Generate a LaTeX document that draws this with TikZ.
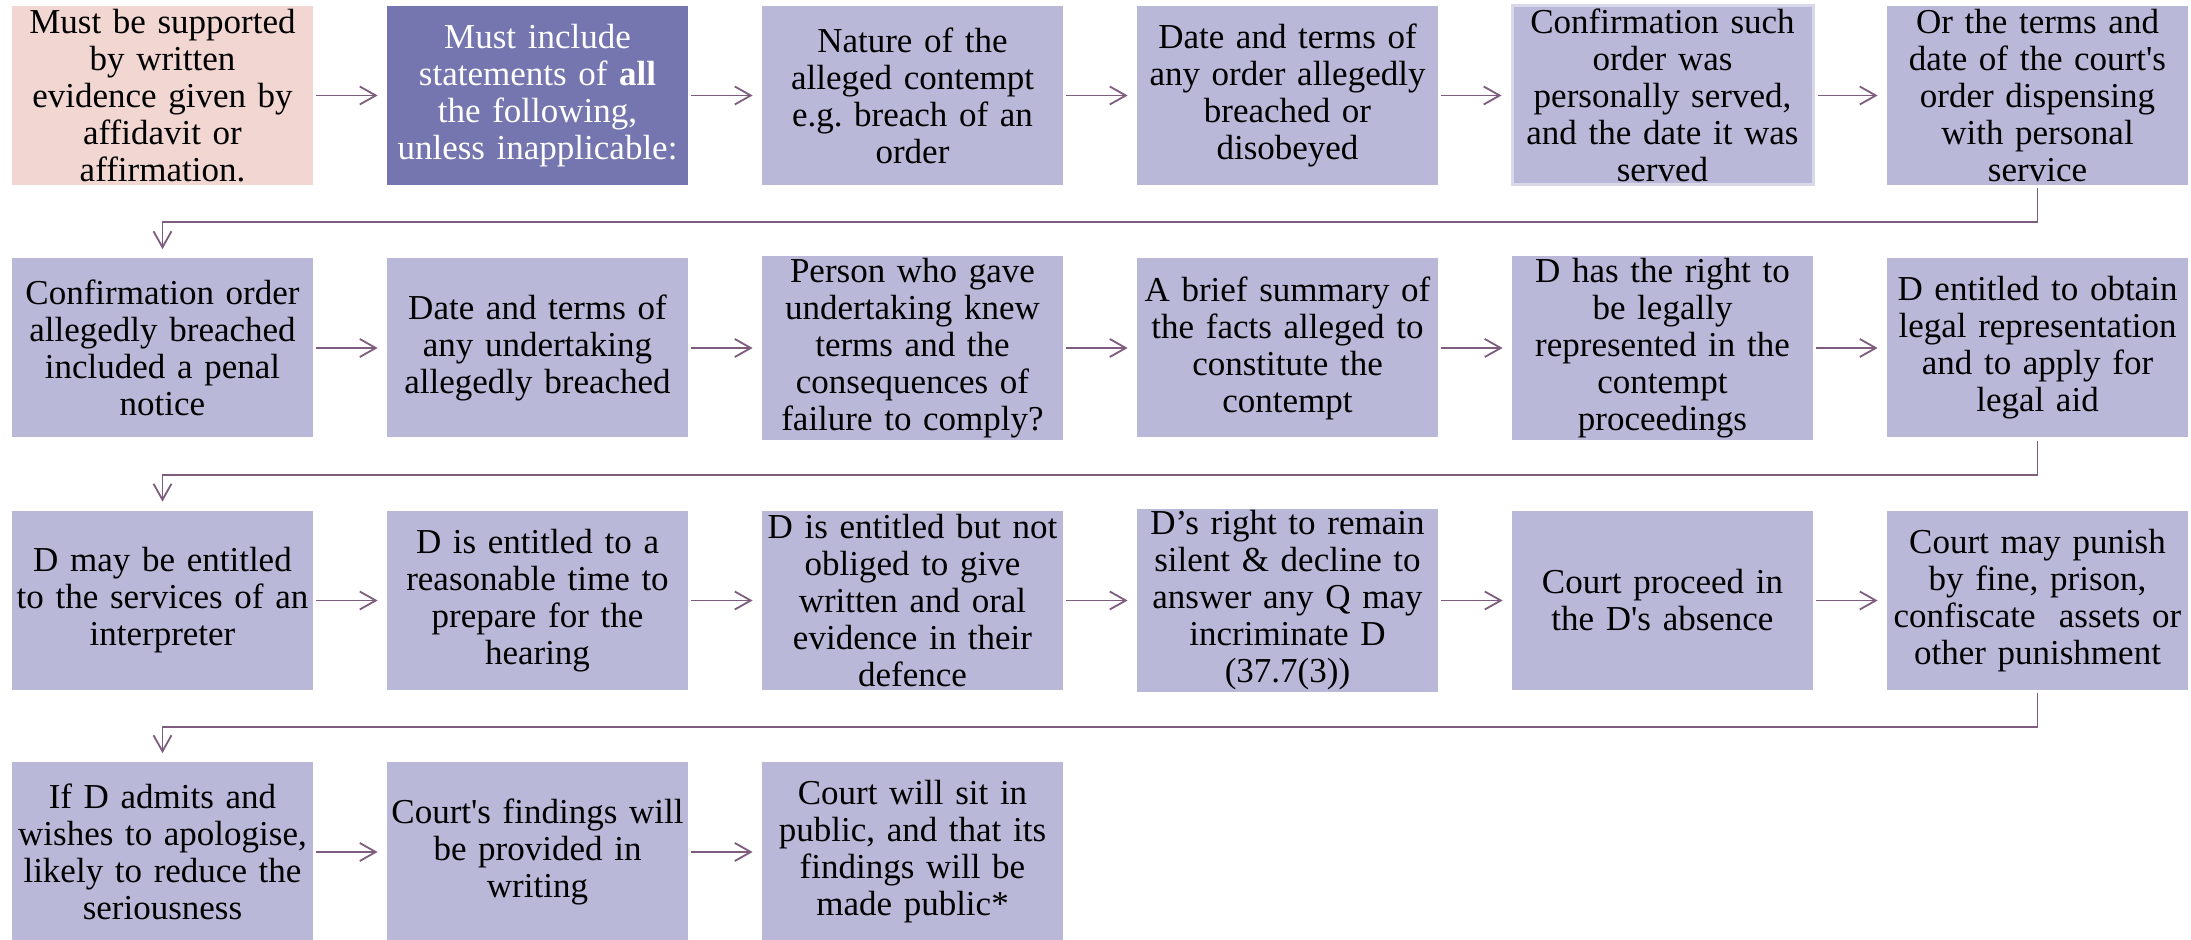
\documentclass[tikz,border=0pt]{standalone}
\usepackage{fontspec}
\setmainfont{Liberation Serif}
\usetikzlibrary{arrows.meta}
\definecolor{lav}{RGB}{185,184,216}
\definecolor{darkbox}{RGB}{117,117,175}
\definecolor{pinkbox}{RGB}{241,214,209}
\definecolor{arr}{RGB}{125,92,125}
\definecolor{rim}{RGB}{216,216,232}
\newcommand{\sq}{\textquotesingle}

\begin{document}
\begin{tikzpicture}[x=0.5pt,y=-0.5pt,
    box/.style={fill=lav,minimum width=150.5pt,minimum height=89.5pt,inner sep=1pt,
      text width=148pt,align=center,font=\fontsize{17.5}{18.5}\selectfont},
    flow/.style={-{Straight Barb[length=8pt,width=9pt]},draw=arr,line width=0.9pt,
      shorten <=1.5pt,shorten >=4.5pt}]
  \useasboundingbox (0,0) rectangle (2191,940);

  \node[box,fill=pinkbox] (a1) at (162.5,95.5) {Must be supported\\ by written\\ evidence given by\\ affidavit or\\ affirmation.};
  \node[box,fill=darkbox,text=white] (a2) at (537.5,95.5) {Must include\\ statements of \textbf{all}\\ the following,\\ unless inapplicable:};
  \node[box] (a3) at (912.5,95.5) {Nature of the\\ alleged contempt\\ e.g.\ breach of an\\ order};
  \node[box] (a4) at (1287.5,95.5) {Date and terms of\\ any order allegedly\\ breached or\\ disobeyed};
  \node[box,draw=rim,line width=1.5pt] (a5) at (1662.5,95.5) {Confirmation such\\ order was\\ personally served,\\ and the date it was\\ served};
  \node[box] (a6) at (2037.5,95.5) {Or the terms and\\ date of the court\sq s\\ order dispensing\\ with personal\\ service};

  \node[box] (b1) at (162.5,348) {Confirmation order\\ allegedly breached\\ included a penal\\ notice};
  \node[box] (b2) at (537.5,348) {Date and terms of\\ any undertaking\\ allegedly breached};
  \node[box] (b3) at (912.5,348) {Person who gave\\ undertaking knew\\ terms and the\\ consequences of\\ failure to comply?};
  \node[box] (b4) at (1287.5,348) {A brief summary of\\ the facts alleged to\\ constitute the\\ contempt};
  \node[box] (b5) at (1662.5,348) {D has the right to\\ be legally\\ represented in the\\ contempt\\ proceedings};
  \node[box] (b6) at (2037.5,348) {D entitled to obtain\\ legal representation\\ and to apply for\\ legal aid};

  \node[box] (c1) at (162.5,600.5) {D may be entitled\\ to the services of an\\ interpreter};
  \node[box] (c2) at (537.5,600.5) {D is entitled to a\\ reasonable time to\\ prepare for the\\ hearing};
  \node[box] (c3) at (912.5,600.5) {D is entitled but not\\ obliged to give\\ written and oral\\ evidence in their\\ defence};
  \node[box] (c4) at (1287.5,600.5) {D’s right to remain\\ silent \& decline to\\ answer any Q may\\ incriminate D\\ (37.7(3))};
  \node[box] (c5) at (1662.5,600.5) {Court proceed in\\ the D\sq s absence};
  \node[box] (c6) at (2037.5,600.5) {Court may punish\\ by fine, prison,\\ confiscate\ \ assets or\\ other punishment};

  \node[box] (d1) at (162.5,852) {If D admits and\\ wishes to apologise,\\ likely to reduce the\\ seriousness};
  \node[box] (d2) at (537.5,852) {Court\sq s findings will\\ be provided in\\ writing};
  \node[box] (d3) at (912.5,852) {Court will sit in\\ public, and that its\\ findings will be\\ made public*};

  \draw[flow] (a1) -- (a2);
  \draw[flow] (a2) -- (a3);
  \draw[flow] (a3) -- (a4);
  \draw[flow] (a4) -- (a5);
  \draw[flow] (a5) -- (a6);
  \draw[flow] (a6.south) -- ++(0,37) -| (b1.north);
  \draw[flow] (b1) -- (b2);
  \draw[flow] (b2) -- (b3);
  \draw[flow] (b3) -- (b4);
  \draw[flow] (b4) -- (b5);
  \draw[flow] (b5) -- (b6);
  \draw[flow] (b6.south) -- ++(0,37) -| (c1.north);
  \draw[flow] (c1) -- (c2);
  \draw[flow] (c2) -- (c3);
  \draw[flow] (c3) -- (c4);
  \draw[flow] (c4) -- (c5);
  \draw[flow] (c5) -- (c6);
  \draw[flow] (c6.south) -- ++(0,37) -| (d1.north);
  \draw[flow] (d1) -- (d2);
  \draw[flow] (d2) -- (d3);
\end{tikzpicture}
\end{document}
